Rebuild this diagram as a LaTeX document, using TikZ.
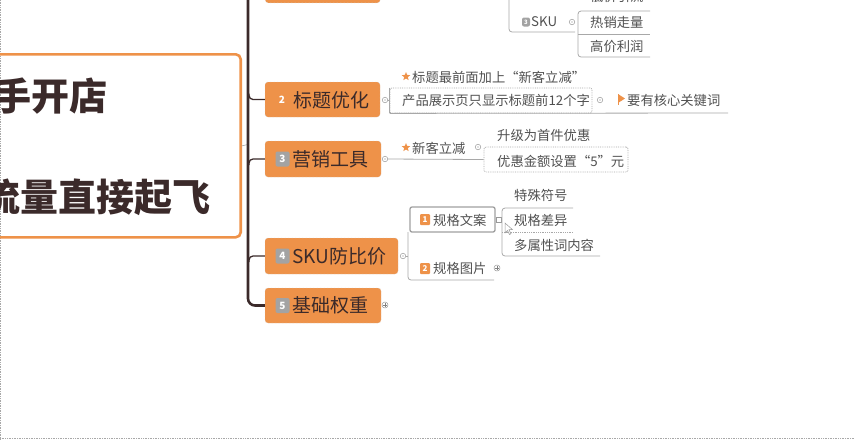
\documentclass[tikz,border=0pt]{standalone}
\usepackage{fontspec}
\newfontfamily\cjk{Noto Sans CJK SC}
\usetikzlibrary{shapes.geometric}
\definecolor{orangeC}{HTML}{EE9249}
\definecolor{tdark}{HTML}{3B2A2A}
\definecolor{leafc}{HTML}{505050}
\definecolor{lineg}{HTML}{A8A8A8}
\definecolor{badgeg}{HTML}{A3A3A3}
\tikzset{
  mainbox/.style={rectangle, rounded corners=3, fill=orangeC, draw=gray!45, densely dotted, line width=0.4, inner sep=0},
  badge/.style={rectangle, rounded corners=2, fill=badgeg, text=white, font=\cjk\bfseries\fontsize{10}{10}\selectfont, minimum width=14, minimum height=15, inner sep=0},
  obadge/.style={rectangle, rounded corners=1, fill=orangeC, text=white, font=\cjk\bfseries\fontsize{8}{8}\selectfont, minimum width=10, minimum height=11, inner sep=0},
  numw/.style={text=white, font=\cjk\bfseries\fontsize{10}{10}\selectfont, inner sep=0},
  maintext/.style={anchor=west, text=tdark, font=\cjk\fontsize{19}{19}\selectfont, inner sep=0},
  roottext/.style={text=tdark, font=\cjk\bfseries\fontsize{38}{38}\selectfont, inner sep=0},
  leaf/.style={anchor=west, text=leafc, font=\cjk\fontsize{13.3}{13.3}\selectfont, inner sep=0},
  marker/.style={circle, draw=gray!80, fill=white, line width=0.5, minimum size=5.5, inner sep=0,
    path picture={\fill[gray] (path picture bounding box.center) circle (0.7);}},
  pmarker/.style={circle, draw=gray!80, fill=white, line width=0.5, minimum size=6, inner sep=0,
    path picture={\draw[gray, line width=0.5] ([xshift=-1.8pt]path picture bounding box.center) -- ([xshift=1.8pt]path picture bounding box.center) ([yshift=-1.8pt]path picture bounding box.center) -- ([yshift=1.8pt]path picture bounding box.center);}},
  gline/.style={draw=lineg, line width=0.8},
  dline/.style={draw=lineg, line width=0.8, densely dotted},
  trunk/.style={draw=tdark, line width=2.6},
  branch/.style={draw=tdark, line width=1.3},
  ostar/.style={star, star points=5, star point ratio=2.3, fill=orangeC, minimum size=9, inner sep=0},
  leafbox/.style={rectangle, draw=lineg, densely dotted, line width=0.8, rounded corners=2, inner sep=0},
}
\begin{document}
\begin{tikzpicture}[x=1pt,y=-1pt]
\useasboundingbox (0,0) rectangle (854,440);
\clip (0,0) rectangle (854,440);
% frame
\draw[lineg, densely dotted, line width=0.7] (0.6,0) -- (0.6,440);
\draw[lineg, densely dotted, line width=0.7] (0,438.5) -- (854,438.5);

% root
\node[draw=orangeC, line width=2.6, rounded corners=5, minimum width=262, minimum height=183, anchor=north east, inner sep=0] (root) at (242,53) {};
\node[roottext, anchor=east] (rt1) at (108,96) {手开店};
\node[roottext, anchor=east] (rt2) at (211,197) {流量直接起飞};
\coordinate (tr) at (248,144.5);
\draw[lineg, line width=0.6] (root.east) -- (tr);

% main nodes
\node[mainbox, minimum width=115, minimum height=30, anchor=south west] (n1) at (265,3) {};
\node[mainbox, minimum width=115, minimum height=35] (n2) at (322.5,99.5) {};
\node[numw] (b2) at (282,100) {2};
\node[maintext] (t2) at (293,100) {标题优化};
\node[mainbox, minimum width=116, minimum height=36] (n3) at (323,159) {};
\node[badge] (b3) at (282.5,159) {3};
\node[maintext] (t3) at (292,159) {营销工具};
\node[mainbox, minimum width=133, minimum height=36] (n4) at (331.5,256) {};
\node[badge] (b4) at (282.5,256) {4};
\node[maintext] (t4) at (292,256) {SKU防比价};
\node[mainbox, minimum width=116, minimum height=35] (n5) at (323,305.5) {};
\node[badge] (b5) at (282.5,305.5) {5};
\node[maintext] (t5) at (292,305.5) {基础权重};

% trunk and branches
\coordinate (tt) at (248,-5);
\coordinate (tb) at (248,305.5);
\draw[trunk, rounded corners=7] (tt) -- (tb) -- (n5.west);
\coordinate (j2) at (249,99.5);
\coordinate (j3) at (249,159);
\coordinate (j4) at (249,256);
\draw[branch, rounded corners=4] ([yshift=6pt]j2) -- (j2) -- (n2.west);
\draw[branch, rounded corners=4] ([yshift=-6pt]j3) -- (j3) -- (n3.west);
\draw[branch, rounded corners=4] ([yshift=-6pt]j4) -- (j4) -- (n4.west);

% markers
\node[marker] (m2) at (385,100) {};
\node[marker] (m3) at (385,159) {};
\node[marker] (m4) at (403,256) {};
\node[pmarker] (m5) at (385,305) {};

% ---- top SKU section
\coordinate (s1) at (509,-5);
\coordinate (s2) at (509,32);
\coordinate (s3) at (575,32);
\draw[gline, rounded corners=3] (s1) -- (s2) -- (s3);
\node[badge, minimum width=8, minimum height=9, font=\cjk\bfseries\fontsize{6}{6}\selectfont] (bsku) at (526,22) {3};
\node[leaf] (tsku) at (531,22) {SKU};
\node[marker] (msku) at (572,22) {};
\coordinate (k1a) at (650,11);
\coordinate (k1b) at (578,11);
\coordinate (k1c) at (578,57);
\coordinate (k1d) at (650,57);
\coordinate (k1e) at (578,34);
\coordinate (k1f) at (650,34);
\draw[gline, rounded corners=3] (k1a) -- (k1b) -- (k1c) -- (k1d);
\draw[gline] (k1e) -- (k1f);
\node[leaf] (lk0) at (590,-3.5) {低价引流};
\node[leaf] (lk1) at (590,22) {热销走量};
\node[leaf] (lk2) at (590,46) {高价利润};

% ---- branch 2 children
\node[leafbox, minimum width=202, minimum height=25] (l2b) at (491,100.5) {};
\coordinate (l2end) at (728,113);
\draw[gline] (l2b.south west) -- (l2end);
\draw[gline] (l2b.north west) -- (l2b.south west);
\draw[gline] (m2) -- (l2b.west);
\node[leaf] (l2t) at (402,100) {产品展示页只显示标题前12个字};
\node[ostar] (st2) at (406,76.5) {};
\node[leaf] (l2s) at (412,77) {标题最前面加上“新客立减”};
\node[marker] (m2b) at (600,100) {};
\coordinate (fl) at (618,94);
\fill[orangeC] (fl) -- ++(7,4.5) -- ++(-7,4.5) -- cycle;
\draw[orangeC, line width=0.9] (fl) -- ++(0,10.5);
\node[leaf] (l2f) at (627,100) {要有核心关键词};

% ---- branch 3 children
\node[leafbox, minimum width=144, minimum height=25] (l3b) at (556,159.5) {};
\draw[gline] (m3) -- (l3b.west);
\node[ostar] (st3) at (406,147.5) {};
\node[leaf] (l3s) at (412,148) {新客立减};
\node[marker] (m3b) at (478,147) {};
\node[leaf] (l3a) at (497,135) {升级为首件优惠};
\node[leaf] (l3t) at (497,161) {优惠金额设置“5”元};

% ---- branch 4 children
\node[draw=gray!75, line width=1.3, rounded corners=2, minimum width=85, minimum height=25, inner sep=0] (k1) at (452.5,219.5) {};
\node[obadge] (bk1) at (425,219.5) {1};
\node[leaf] (tk1) at (433,220) {规格文案};
\coordinate (br4b) at (408,280);
\coordinate (br4e) at (494,280);
\coordinate (br4t) at (408,232);
\draw[gline, rounded corners=3] (br4t) -- (br4b) -- (br4e);
\draw[gline] (m4) -- (m4 -| br4t);
\node[obadge] (bk2) at (425,268.5) {2};
\node[leaf] (tk2) at (433,268) {规格图片};
\node[pmarker] (m4b) at (497,268) {};
\node[rectangle, draw=gray!80, fill=white, line width=0.5, minimum size=5, inner sep=0] (mk1) at (499,220) {};
\coordinate (c1) at (573,208);
\coordinate (c2) at (502,208);
\coordinate (c3) at (502,256);
\coordinate (c4) at (600,256);
\coordinate (c5) at (502,232);
\coordinate (c6) at (573,232);
\draw[gline, rounded corners=3] (c1) -- (c2) -- (c3) -- (c4);
\draw[dline] (c5) -- (c6);
\node[leaf] (sp1) at (514,195) {特殊符号};
\node[leaf] (sp2) at (514,220) {规格差异};
\node[leaf] (sp3) at (514,245) {多属性词内容};
% mouse pointer
\coordinate (cur) at (505,223);
\draw[gray!80, fill=white, line width=0.5] (cur) -- ++(0,10) -- ++(2.5,-2.5) -- ++(2,4) -- ++(1.5,-0.8) -- ++(-2,-4) -- ++(3.5,0) -- cycle;
\end{tikzpicture}
\end{document}
